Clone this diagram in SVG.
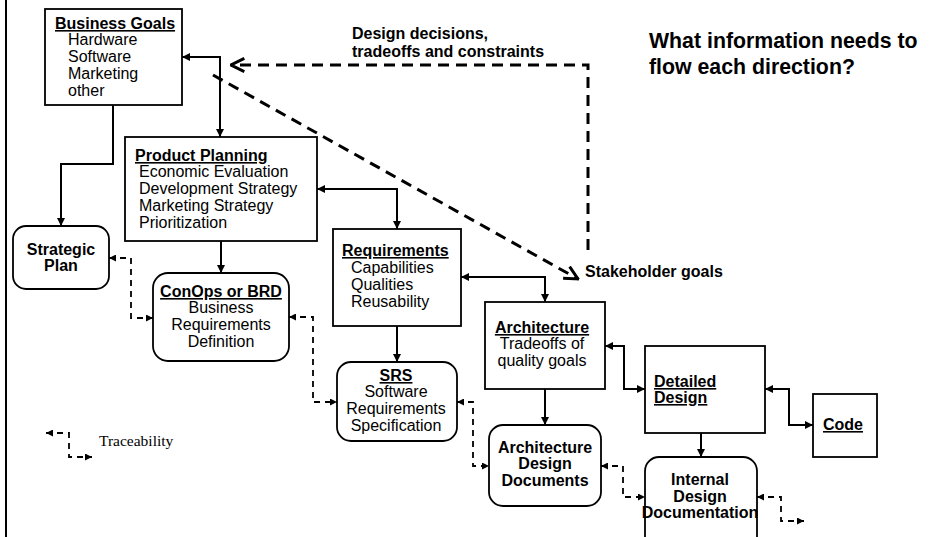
<svg xmlns="http://www.w3.org/2000/svg" width="929" height="537" viewBox="0 0 929 537">
<defs>
<style>
text{font-family:"Liberation Sans",Arial,sans-serif;font-size:16px;fill:#000}
.b{font-weight:bold}
.u{text-decoration:underline}
.m{text-anchor:middle}
.box{fill:#fff;stroke:#000;stroke-width:1.8}
.c{fill:none;stroke:#000;stroke-width:2;marker-start:url(#ah);marker-end:url(#ah)}
.c1{fill:none;stroke:#000;stroke-width:2;marker-end:url(#ah)}
.t{fill:none;stroke:#000;stroke-width:1.8;stroke-dasharray:6 5;marker-start:url(#ahs);marker-end:url(#ahs)}
.big{fill:none;stroke:#000;stroke-width:3;stroke-dasharray:11 7;marker-end:url(#open)}
</style>
<marker id="ah" viewBox="0 0 10 10" refX="10" refY="5" markerUnits="userSpaceOnUse" markerWidth="9" markerHeight="8" orient="auto-start-reverse"><path d="M0,0 L10,5 L0,10 z" fill="#000"/></marker>
<marker id="ahs" viewBox="0 0 10 10" refX="10" refY="5" markerUnits="userSpaceOnUse" markerWidth="8" markerHeight="7" orient="auto-start-reverse"><path d="M0,0 L10,5 L0,10 z" fill="#000"/></marker>
<marker id="open" viewBox="0 0 12 12" refX="11" refY="6" markerUnits="userSpaceOnUse" markerWidth="16" markerHeight="16" orient="auto"><path d="M1,1 L11,6 L1,11" fill="none" stroke="#000" stroke-width="2.2"/></marker>
</defs>
<rect width="929" height="537" fill="#fff"/>
<line x1="6" y1="0" x2="6" y2="537" stroke="#000" stroke-width="2"/>

<g id="connectors">
<path class="c" d="M182,57 H220 V137"/>
<path class="c1" d="M113,105 V164 H61 V226"/>
<path class="c" d="M317,189 H397 V229"/>
<path class="c1" d="M221,241 V273"/>
<path class="c" d="M461,277 H545 V302"/>
<path class="c1" d="M397,326 V362"/>
<path class="c" d="M605,346 H624 V389 H645"/>
<path class="c" d="M765,389 H789 V425 H813"/>
<path class="c1" d="M545,389 V425"/>
<path class="c1" d="M701,433 V457"/>
<path class="t" d="M109,258 H131 V318 H153"/>
<path class="t" d="M289,317 H313 V402 H337"/>
<path class="t" d="M457,402 H473 V466 H489"/>
<path class="t" d="M601,466 H623 V497 H645"/>
<path class="t" d="M757,497 H781 V521 H804"/>
<path class="big" d="M588,250 V65 H231"/>
<path class="big" d="M213,75 L578,279"/>
</g>

<g id="business-goals">
<rect class="box" x="45" y="9" width="137" height="96"/>
<text class="b u" x="55" y="29">Business Goals</text>
<text x="68" y="45">Hardware</text>
<text x="68" y="62">Software</text>
<text x="68" y="79">Marketing</text>
<text x="68" y="96">other</text>
</g>

<g id="product-planning">
<rect class="box" x="125" y="137" width="192" height="104"/>
<text class="b u" x="135" y="161">Product Planning</text>
<text x="139" y="177">Economic Evaluation</text>
<text x="139" y="194">Development Strategy</text>
<text x="139" y="211">Marketing Strategy</text>
<text x="139" y="228">Prioritization</text>
</g>

<g id="strategic-plan">
<rect class="box" x="13" y="226" width="96" height="63" rx="13"/>
<text class="b m" x="61" y="255">Strategic</text>
<text class="b m" x="61" y="271">Plan</text>
</g>

<g id="conops">
<rect class="box" x="153" y="273" width="136" height="88" rx="15"/>
<text class="b u m" x="221" y="297">ConOps or BRD</text>
<text class="m" x="221" y="313">Business</text>
<text class="m" x="221" y="330">Requirements</text>
<text class="m" x="221" y="347">Definition</text>
</g>

<g id="requirements">
<rect class="box" x="333" y="229" width="128" height="97"/>
<text class="b u" x="342" y="256">Requirements</text>
<text x="351" y="273">Capabilities</text>
<text x="351" y="290">Qualities</text>
<text x="351" y="307">Reusability</text>
</g>

<g id="srs">
<rect class="box" x="337" y="362" width="120" height="79" rx="14"/>
<text class="b u m" x="396" y="381">SRS</text>
<text class="m" x="396" y="397">Software</text>
<text class="m" x="396" y="414">Requirements</text>
<text class="m" x="396" y="431">Specification</text>
</g>

<g id="architecture">
<rect class="box" x="485" y="302" width="120" height="87"/>
<text class="b u m" x="542" y="333">Architecture</text>
<text class="m" x="542" y="349">Tradeoffs of</text>
<text class="m" x="542" y="366">quality goals</text>
</g>

<g id="detailed-design">
<rect class="box" x="645" y="346" width="120" height="87"/>
<text class="b u" x="654" y="387">Detailed</text>
<text class="b u" x="654" y="403">Design</text>
</g>

<g id="code">
<rect class="box" x="813" y="394" width="64" height="63"/>
<text class="b u m" x="843" y="430">Code</text>
</g>

<g id="arch-design-docs">
<rect class="box" x="489" y="425" width="112" height="81" rx="14"/>
<text class="b m" x="545" y="453">Architecture</text>
<text class="b m" x="545" y="469">Design</text>
<text class="b m" x="545" y="486">Documents</text>
</g>

<g id="internal-design-docs">
<rect class="box" x="645" y="457" width="112" height="100" rx="14"/>
<text class="b m" x="700" y="485">Internal</text>
<text class="b m" x="700" y="502">Design</text>
<text class="b m" x="700" y="518">Documentation</text>
</g>

<g id="labels">
<text class="b" x="352" y="39">Design decisions,</text>
<text class="b" x="352" y="57">tradeoffs and constraints</text>
<text class="b" x="585" y="277">Stakeholder goals</text>
<text class="b" x="649" y="48" style="font-size:21.3px">What information needs to</text>
<text class="b" x="649" y="74" style="font-size:21.3px">flow each direction?</text>
</g>

<g id="legend">
<path class="t" d="M46,433 H69 V457 H92"/>
<text x="99" y="446" style="font-family:'Liberation Serif','Times New Roman',serif;font-size:15.5px">Traceability</text>
</g>
</svg>
